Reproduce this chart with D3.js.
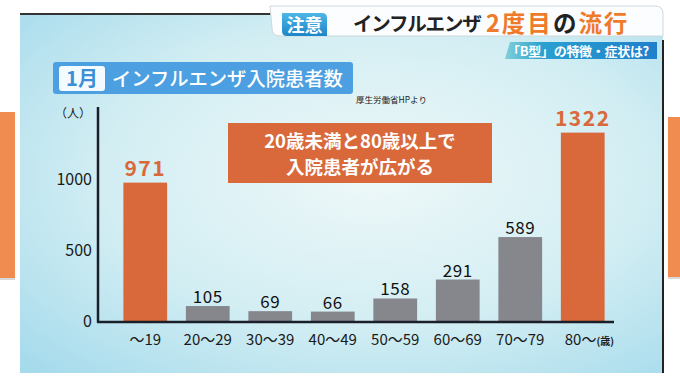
<!DOCTYPE html>
<html><head><meta charset="utf-8">
<script src="https://cdn.jsdelivr.net/npm/d3@7"></script>
<style>html,body{margin:0;padding:0;background:#fff;overflow:hidden}svg{display:block}</style>
</head><body><svg id="c" width="680" height="382"></svg>
<script>
const categories = ["～19","20～29","30～39","40～49","50～59","60～69","70～79","80～"];
const values = [971,105,69,66,158,291,589,1322];
const highlight = [true,false,false,false,false,false,false,true];
const yTicks = [0,500,1000];
const title = "インフルエンザ入院患者数";
const month = "1月";
const source = "厚生労働省HPより";
const callout = ["20歳未満と80歳以上で","入院患者が広がる"];

const F = "'Noto Sans CJK JP','Noto Sans',sans-serif";
const ORANGE = "#d9693b", GRAY = "#85878c", AXIS = "#1b1f2a";
const svg = d3.select("#c");
const defs = svg.append("defs");

// side orange panels (outside screen)
svg.append("rect").attr("x",0).attr("y",112).attr("width",15).attr("height",166).attr("fill","#f08c50");
svg.append("rect").attr("x",0).attr("y",278).attr("width",15).attr("height",2).attr("fill","#d8d8d8");
svg.append("rect").attr("x",668).attr("y",117).attr("width",12).attr("height",160).attr("fill","#f08c50");
svg.append("rect").attr("x",668).attr("y",277).attr("width",12).attr("height",2).attr("fill","#d8d8d8");

// screen panel gradient
const rg = defs.append("radialGradient").attr("id","bg").attr("cx","0.55").attr("cy","0.45").attr("r","0.75");
rg.append("stop").attr("offset","0").attr("stop-color","#eef8f8");
rg.append("stop").attr("offset","0.55").attr("stop-color","#d3eef3");
rg.append("stop").attr("offset","1").attr("stop-color","#a6dbec");
svg.append("rect").attr("x",20).attr("y",14).attr("width",643).attr("height",359).attr("fill","url(#bg)");
svg.append("line").attr("x1",663).attr("x2",663).attr("y1",40).attr("y2",373).attr("stroke","#222").attr("stroke-width",2);
svg.append("line").attr("x1",20).attr("x2",280).attr("y1",14).attr("y2",14).attr("stroke","#333").attr("stroke-width",2);

// header tab
svg.append("path").attr("d","M270,6 L655,6 Q663,6 663,14 L663,36 L280,36 Q272,36 272,28 Z")
  .attr("fill","#fbfdfe").attr("stroke","#cfd8dc").attr("stroke-width",1);
const bg2 = defs.append("linearGradient").attr("id","badge").attr("x1","0").attr("x2","0").attr("y1","0").attr("y2","1");
bg2.append("stop").attr("offset","0").attr("stop-color","#4fb6e6");
bg2.append("stop").attr("offset","1").attr("stop-color","#1c86c9");
svg.append("path").attr("d","M282,13 L322,13 Q327,13 327,18 L327,36 L287,36 Q282,36 282,31 Z").attr("fill","url(#badge)");
svg.append("text").attr("x",304.5).attr("y",32).attr("text-anchor","middle").attr("font-family",F)
  .attr("font-weight",700).attr("font-size",18).attr("fill","#fff").text("注意");
svg.append("text").attr("x",353).attr("y",31).attr("font-family",F).attr("font-weight",700)
  .attr("font-size",19.5).attr("letter-spacing",-1.2).attr("fill","#222").text("インフルエンザ");
const ht = svg.append("text").attr("x",486).attr("y",31.5).attr("font-family",F).attr("font-weight",700)
  .attr("font-size",23.5).attr("letter-spacing",2);
ht.append("tspan").attr("fill","#ee7a2a").text("2度目");
ht.append("tspan").attr("fill","#222").text("の");
ht.append("tspan").attr("fill","#ee7a2a").text("流行");
// sub banner
const sb = defs.append("linearGradient").attr("id","sub").attr("x1","0").attr("x2","1");
sb.append("stop").attr("offset","0").attr("stop-color","#7fd0d8");
sb.append("stop").attr("offset","0.25").attr("stop-color","#2aa0d0");
sb.append("stop").attr("offset","1").attr("stop-color","#1f7fcb");
svg.append("path").attr("d","M510,42 L657,42 L657,59 L505,59 Z").attr("fill","url(#sub)");
svg.append("text").attr("x",578).attr("y",55.5).attr("text-anchor","middle").attr("font-family",F)
  .attr("font-weight",700).attr("font-size",13).attr("letter-spacing",-0.3).attr("fill","#fff").text("「B型」の特徴・症状は?");

// title box
svg.append("rect").attr("x",53).attr("y",62).attr("width",300).attr("height",32).attr("rx",3).attr("fill","#4c9fe0");
svg.append("rect").attr("x",59).attr("y",66).attr("width",46).attr("height",25).attr("rx",3).attr("fill","#f4fbff");
svg.append("text").attr("x",82).attr("y",86).attr("text-anchor","middle").attr("font-family",F)
  .attr("font-weight",700).attr("font-size",20).attr("fill","#3b8fd6").text(month);
svg.append("text").attr("x",112).attr("y",86).attr("font-family",F).attr("font-weight",500)
  .attr("font-size",19.3).attr("fill","#fff").text(title);
svg.append("text").attr("x",356).attr("y",103).attr("font-family",F).attr("font-size",8.5).attr("fill","#222").text(source);

// scales
const x = d3.scaleBand().domain(categories).range([114,614]).paddingInner(0.3).paddingOuter(0.15);
const y = d3.scaleLinear().domain([0,1000]).range([321,178.5]);

// bars
svg.selectAll("rect.bar").data(values).join("rect").attr("class","bar")
  .attr("x",(d,i)=>x(categories[i])).attr("width",x.bandwidth())
  .attr("y",d=>y(d)).attr("height",d=>y(0)-y(d))
  .attr("fill",(d,i)=>highlight[i]?ORANGE:GRAY);

// value labels
svg.selectAll("text.val").data(values).join("text").attr("class","val")
  .attr("x",(d,i)=>x(categories[i])+x.bandwidth()/2)
  .attr("y",(d,i)=>y(d)-(highlight[i]?7:3))
  .attr("text-anchor","middle").attr("font-family",F)
  .attr("font-weight",(d,i)=>highlight[i]?700:400)
  .attr("font-size",(d,i)=>highlight[i]?21:17)
  .attr("letter-spacing",(d,i)=>highlight[i]?1.5:0.5)
  .attr("fill",(d,i)=>highlight[i]?ORANGE:"#111").text(d=>d);

// axes
const ya = svg.append("g").attr("transform","translate(98,0)")
  .call(d3.axisLeft(y).tickValues(yTicks).tickFormat(d3.format("d")).tickSize(0).tickPadding(6));
ya.select(".domain").remove();
ya.selectAll("text").attr("font-family",F).attr("font-size",16).attr("fill","#1a1a1a").attr("dy","0.35em");
svg.append("line").attr("x1",98).attr("x2",98).attr("y1",107).attr("y2",322.5).attr("stroke",AXIS).attr("stroke-width",2.5);
svg.append("line").attr("x1",97).attr("x2",614).attr("y1",322).attr("y2",322).attr("stroke",AXIS).attr("stroke-width",2.5);
svg.append("text").attr("x",91).attr("y",118).attr("text-anchor","end").attr("font-family",F)
  .attr("font-size",12).attr("fill","#1a1a1a").text("（人）");

const xa = svg.append("g").attr("transform","translate(0,322)")
  .call(d3.axisBottom(x).tickSize(0).tickPadding(12));
xa.select(".domain").remove();
xa.selectAll("text").attr("font-family",F).attr("font-size",15).attr("fill","#1a1a1a");
xa.selectAll(".tick").filter(d=>d==="80～").select("text")
  .attr("text-anchor","start").attr("dx",-18)
  .append("tspan").attr("font-size",10).attr("font-weight",700).text("(歳)");

// callout
svg.append("rect").attr("x",228).attr("y",123).attr("width",264).attr("height",60).attr("fill","#d9693b");
svg.selectAll("text.call").data(callout).join("text").attr("class","call")
  .attr("x",360).attr("y",(d,i)=>148+i*26).attr("text-anchor","middle").attr("font-family",F)
  .attr("font-weight",700).attr("font-size",18.5).attr("fill","#fff").text(d=>d);
</script></body></html>
